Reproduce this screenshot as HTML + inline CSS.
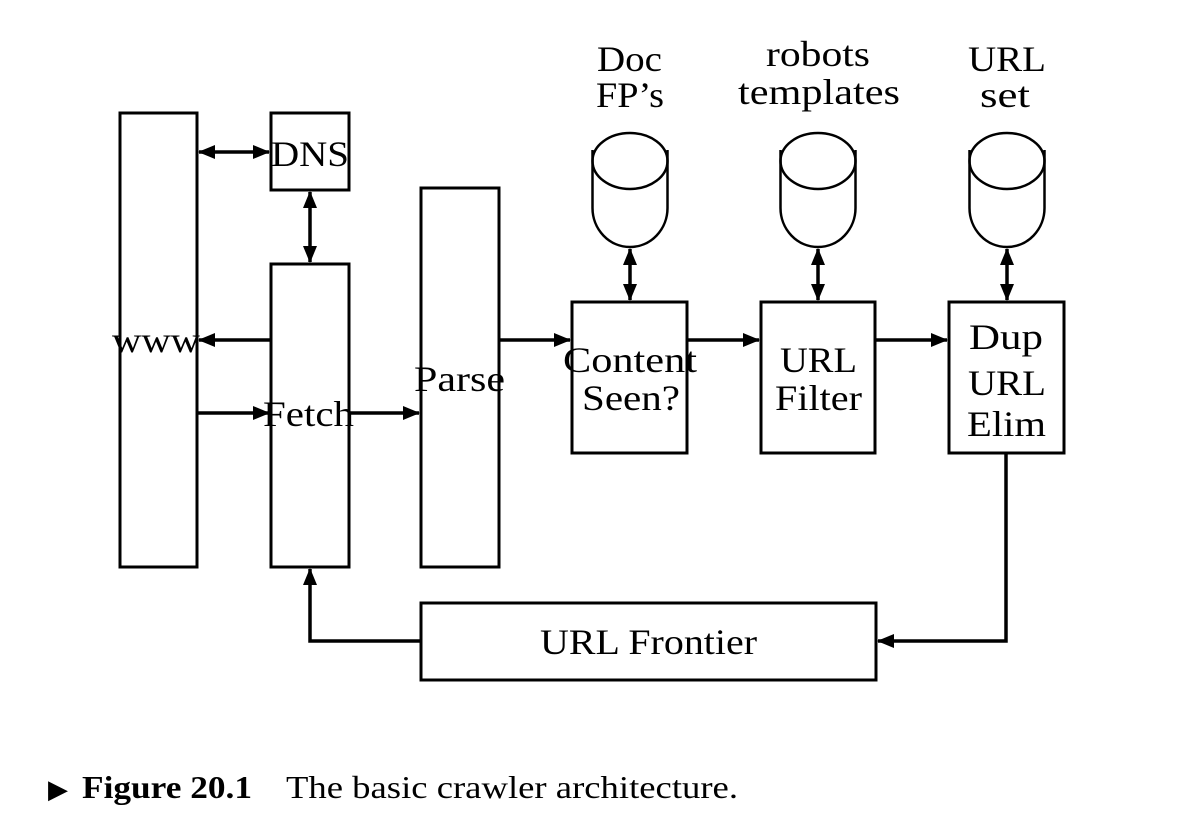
<!DOCTYPE html>
<html><head><meta charset="utf-8"><style>
html,body{margin:0;padding:0;background:#fff;width:1200px;height:814px;overflow:hidden}
svg text{font-family:"Liberation Serif",serif;fill:#000}
</style></head><body>
<svg width="1200" height="814" viewBox="0 0 1200 814" xmlns="http://www.w3.org/2000/svg">
<defs>
<marker id="a" markerUnits="userSpaceOnUse" markerWidth="18" markerHeight="14" refX="16" refY="7" orient="auto-start-reverse">
<path d="M0,0 L17,7 L0,14 Z" fill="#000"/></marker>
</defs>
<g fill="none" stroke="#000" stroke-width="3">
<rect x="120" y="113" width="77" height="454"/>
<rect x="271" y="113" width="78" height="77"/>
<rect x="271" y="264" width="78" height="303"/>
<rect x="421" y="188" width="78" height="379"/>
<rect x="572" y="302" width="115" height="151"/>
<rect x="761" y="302" width="114" height="151"/>
<rect x="949" y="302" width="115" height="151"/>
<rect x="421" y="603" width="455" height="77"/>
</g>
<g fill="none" stroke="#000" stroke-width="3.5">
<line x1="199" y1="152" x2="269" y2="152" marker-start="url(#a)" marker-end="url(#a)"/>
<line x1="310" y1="192" x2="310" y2="262" marker-start="url(#a)" marker-end="url(#a)"/>
<line x1="271" y1="340" x2="199" y2="340" marker-end="url(#a)"/>
<line x1="197" y1="413" x2="269" y2="413" marker-end="url(#a)"/>
<line x1="349" y1="413" x2="419" y2="413" marker-end="url(#a)"/>
<line x1="499" y1="340" x2="570" y2="340" marker-end="url(#a)"/>
<line x1="687" y1="340" x2="759" y2="340" marker-end="url(#a)"/>
<line x1="875" y1="340" x2="947" y2="340" marker-end="url(#a)"/>
<polyline points="1006,453 1006,641 878,641" marker-end="url(#a)"/>
<polyline points="421,641 310,641 310,569" marker-end="url(#a)"/>
<line x1="630" y1="249" x2="630" y2="300" marker-start="url(#a)" marker-end="url(#a)"/>
<line x1="818" y1="249" x2="818" y2="300" marker-start="url(#a)" marker-end="url(#a)"/>
<line x1="1007" y1="249" x2="1007" y2="300" marker-start="url(#a)" marker-end="url(#a)"/>
</g>
<g fill="none" stroke="#000" stroke-width="2.5">
<g transform="translate(630,0)">
<ellipse cx="0" cy="161" rx="37.5" ry="28"/>
<path d="M-37.5,150 V208 A37.5,39 0 0 0 37.5,208 V150"/>
</g>
<g transform="translate(818,0)">
<ellipse cx="0" cy="161" rx="37.5" ry="28"/>
<path d="M-37.5,150 V208 A37.5,39 0 0 0 37.5,208 V150"/>
</g>
<g transform="translate(1007,0)">
<ellipse cx="0" cy="161" rx="37.5" ry="28"/>
<path d="M-37.5,150 V208 A37.5,39 0 0 0 37.5,208 V150"/>
</g>
</g>
<g font-size="36" lengthAdjust="spacingAndGlyphs">
<text x="597" y="71" textLength="65" lengthAdjust="spacingAndGlyphs">Doc</text>
<text x="596" y="107" textLength="68" lengthAdjust="spacingAndGlyphs">FP’s</text>
<text x="766" y="66" textLength="104" lengthAdjust="spacingAndGlyphs">robots</text>
<text x="738" y="104" textLength="162" lengthAdjust="spacingAndGlyphs">templates</text>
<text x="968" y="71" textLength="78" lengthAdjust="spacingAndGlyphs">URL</text>
<text x="980" y="107" textLength="50" lengthAdjust="spacingAndGlyphs">set</text>
<text x="271" y="166" textLength="78" lengthAdjust="spacingAndGlyphs">DNS</text>
<text x="112" y="352" textLength="88" lengthAdjust="spacingAndGlyphs">www</text>
<text x="263" y="426" textLength="91" lengthAdjust="spacingAndGlyphs">Fetch</text>
<text x="414" y="391" textLength="91" lengthAdjust="spacingAndGlyphs">Parse</text>
<text x="563" y="372" textLength="134" lengthAdjust="spacingAndGlyphs">Content</text>
<text x="582" y="410" textLength="98" lengthAdjust="spacingAndGlyphs">Seen?</text>
<text x="780" y="372" textLength="77" lengthAdjust="spacingAndGlyphs">URL</text>
<text x="775" y="410" textLength="87" lengthAdjust="spacingAndGlyphs">Filter</text>
<text x="969" y="349" textLength="74" lengthAdjust="spacingAndGlyphs">Dup</text>
<text x="968" y="395" textLength="78" lengthAdjust="spacingAndGlyphs">URL</text>
<text x="967" y="436" textLength="79" lengthAdjust="spacingAndGlyphs">Elim</text>
<text x="540" y="654" textLength="217" lengthAdjust="spacingAndGlyphs">URL Frontier</text>
</g>
<g font-size="32">
<text x="48" y="798" font-size="26">▶</text>
<text x="82" y="798" font-weight="bold" textLength="170" lengthAdjust="spacingAndGlyphs">Figure 20.1</text>
<text x="286" y="798" textLength="452" lengthAdjust="spacingAndGlyphs">The basic crawler architecture.</text>
</g>
</svg>
</body></html>
